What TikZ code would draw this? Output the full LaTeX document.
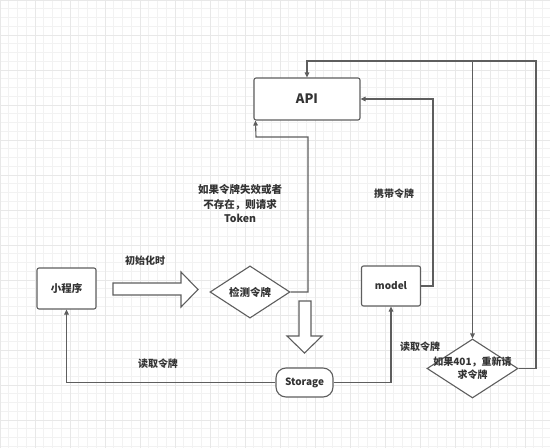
\documentclass[tikz,border=0pt]{standalone}
\usepackage{fontspec}
\setmainfont{Noto Sans CJK SC}
\usetikzlibrary{arrows.meta,shapes.geometric}
\definecolor{lineclr}{HTML}{5E5E5E}
\definecolor{textclr}{HTML}{333333}
\tikzset{
  box/.style={draw=lineclr, line width=1.1pt, rounded corners=2pt, fill=white,
    text=textclr, font=\fontsize{10.5}{12}\selectfont\bfseries, inner sep=0pt},
  decision/.style={diamond, draw=lineclr, line width=1.1pt, fill=white,
    text=textclr, font=\fontsize{10.5}{13}\selectfont\bfseries, inner sep=0pt, align=center},
  lbl/.style={text=textclr, font=\fontsize{10}{14}\selectfont\bfseries, align=center},
  link/.style={draw=lineclr, line width=1.1pt, -{Triangle[length=5pt,width=4.5pt]}},
  hollow/.style={draw=lineclr, line width=1.1pt, fill=white, line join=miter}
}
\begin{document}
\begin{tikzpicture}[x=1pt,y=-1pt]
\useasboundingbox (0,0) rectangle (550,448);
    % Grid
    \fill[white] (0,0) rectangle (550,448);
    \draw[gray!10, line width=0.6pt, step=8.75pt] (0,0) grid (550,448);
    \draw[gray!18, line width=0.6pt, step=35pt] (0,0) grid (550,448);

    % Boxes
    \node[box, minimum width=106pt, minimum height=42pt, font=\fontsize{13}{15}\selectfont\bfseries] (api) at (307,99) {API};
    \node[box, minimum width=59pt, minimum height=41pt] (prog) at (66.5,288.5) {小程序};
    \node[box, minimum width=59pt, minimum height=40pt, font=\fontsize{10}{12}\selectfont\bfseries] (model) at (391,286) {model};
    \node[box, rounded corners=10pt, minimum width=57pt, minimum height=29pt, font=\fontsize{10}{12}\selectfont\bfseries] (storage) at (304.5,382.5) {Storage};
    \node[decision, minimum width=80pt, minimum height=40pt] (check) at (250,292) {检测令牌};
    \node[decision, minimum width=91pt, minimum height=59pt] (retry) at (472.5,368.5) {};
    \node[lbl, font=\fontsize{10}{13}\selectfont\bfseries] (retrylbl) at (retry.center) {如果401，重新请\\求令牌};

    % Hollow arrows
    \draw[hollow] (113,283) -- (181,283) -- (181,272) -- (198,289.5) -- (181,307)
      -- (181,295) -- (113,295) -- cycle;
    \draw[hollow] (299,301) -- (311,301) -- (311,336) -- (322,336) -- (304.5,353)
      -- (287,336) -- (299,336) -- cycle;

    % Connectors
    \coordinate (topL) at (307,61);
    \coordinate (topM) at (472.5,61);
    \coordinate (topR) at (536,61);
    \draw[link] (storage.west) -| (prog.south);
    \draw[link] (storage.east) -| (model.south);
    \draw[link] (model.east) -- (433,286) |- (api.east);
    \draw[link] (check.east) -- (308,292) |- (256,137) -- ([xshift=2pt]api.south west);
    \draw[link] (retry.east) -| (topR) -- (topL) -- (api.north);
    \draw[link] (topM) -- (retry.north);

    % Labels
    \node[lbl] (initlbl) at (145,261) {初始化时};
    \node[lbl, font=\fontsize{10.5}{14.5}\selectfont\bfseries] (faillbl) at (240,204) {如果令牌失效或者\\不存在，则请求\\Token};
    \node[lbl] (carrylbl) at (394,194) {携带令牌};
    \node[lbl] (readlbl) at (158,364) {读取令牌};
    \node[lbl] (readlbl2) at (420,347) {读取令牌};
\end{tikzpicture}
\end{document}
